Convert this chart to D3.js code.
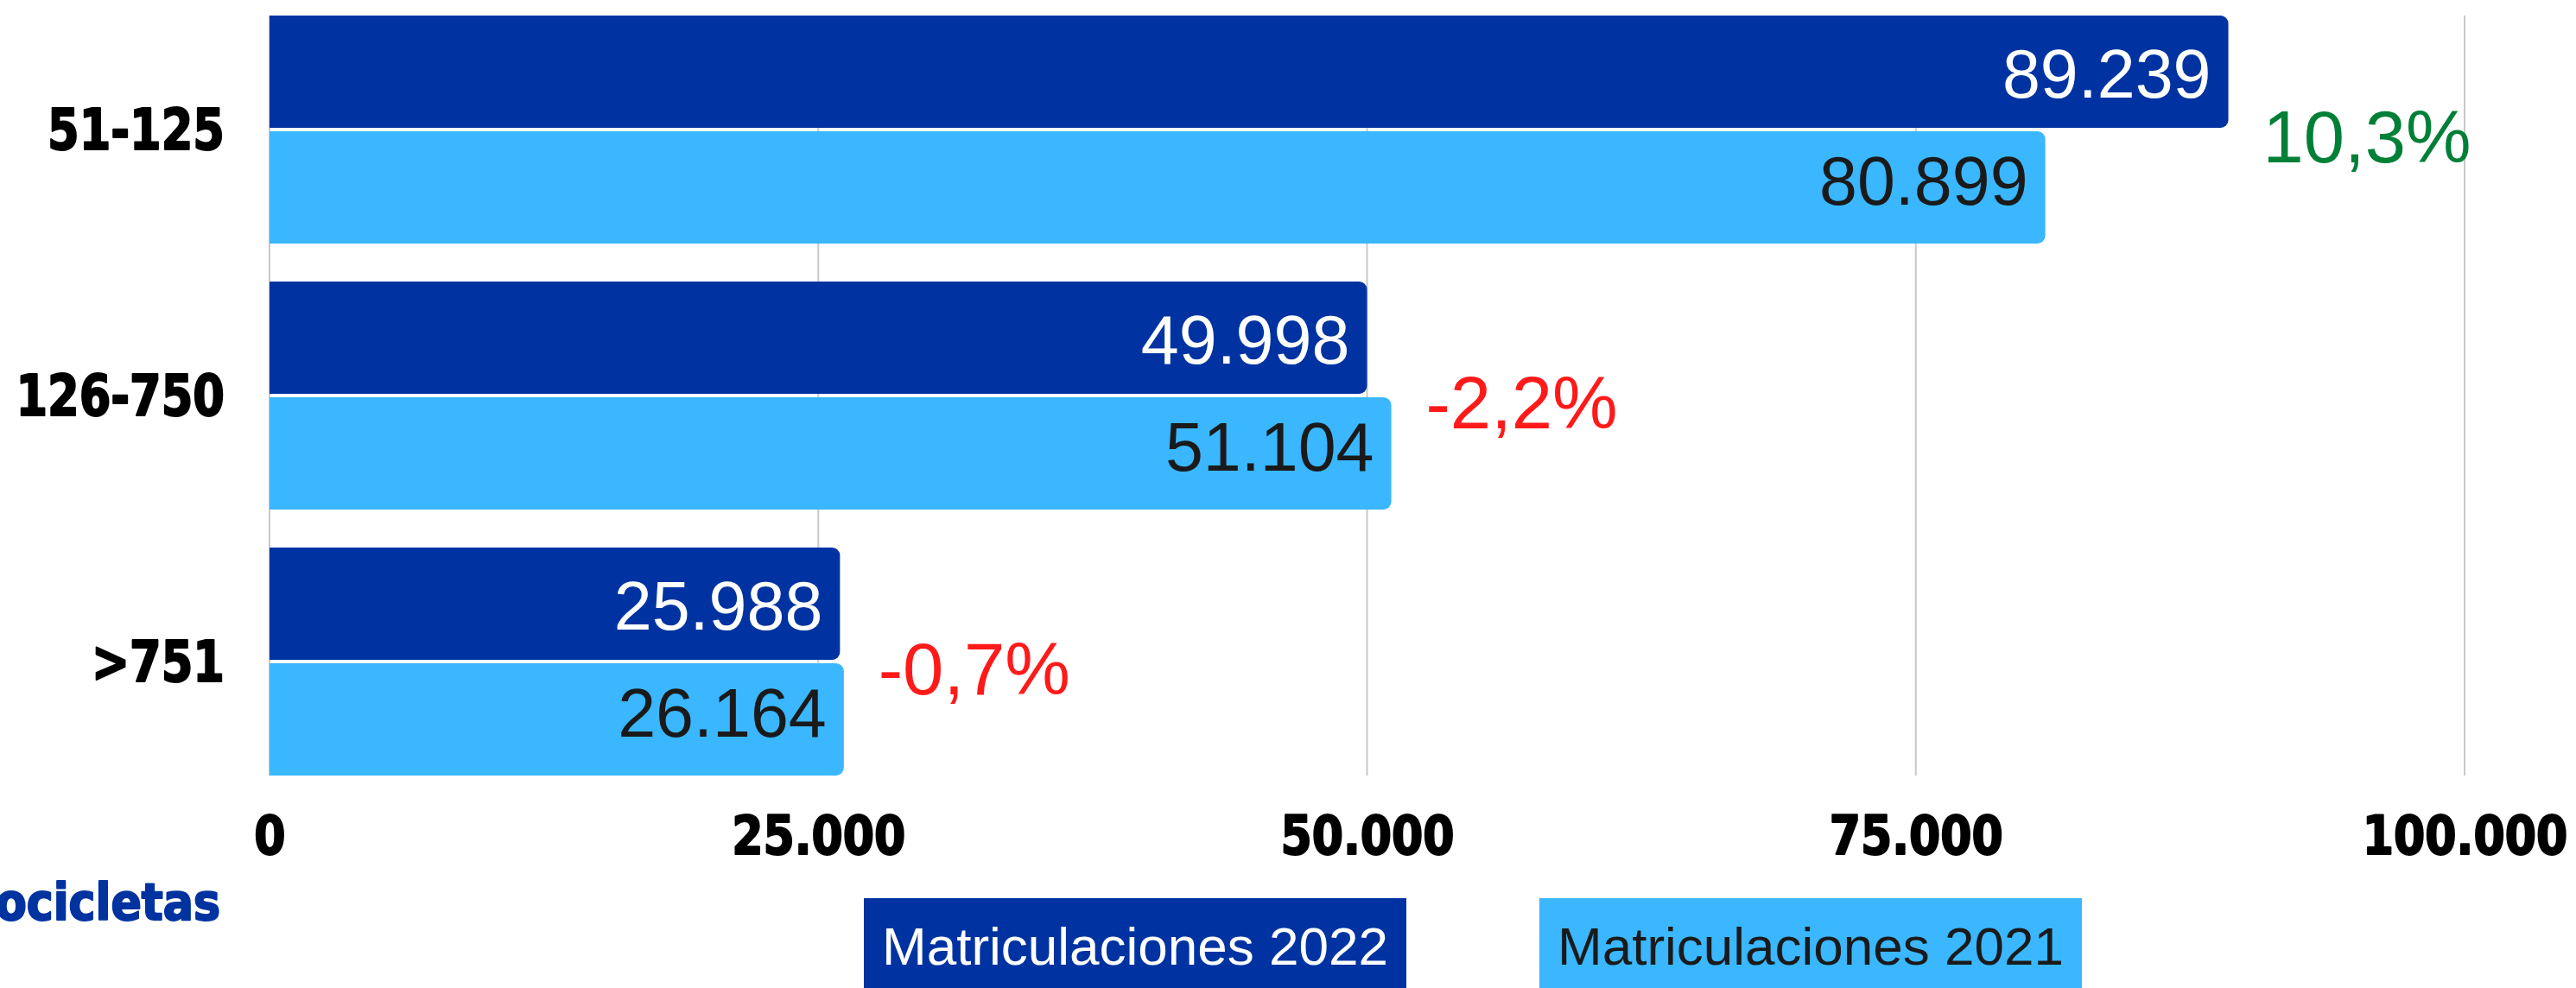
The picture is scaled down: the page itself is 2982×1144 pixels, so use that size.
<!DOCTYPE html>
<html>
<head>
<meta charset="utf-8">
<script src="https://cdn.jsdelivr.net/npm/d3@7"></script>
<style>
  html, body { margin: 0; padding: 0; background: #fff; overflow: hidden; }
  .bold { font-family: "DejaVu Sans Condensed", "DejaVu Sans", sans-serif; font-weight: bold; font-stretch: condensed; stroke-width: 2px; stroke-linejoin: round; }
  .plain { font-family: "Liberation Sans", Arial, sans-serif; }
</style>
</head>
<body>
<svg id="chart" width="2982" height="1144"></svg>
<script>
var categories = ['51-125', '126-750', '>751'];
var series = ['Matriculaciones 2022', 'Matriculaciones 2021'];
var values2022 = [89239, 49998, 25988];
var values2021 = [80899, 51104, 26164];
var xTicks = [0, 25000, 50000, 75000, 100000];

drawChart();

// squeeze bold labels horizontally so they look like the narrow heavy face of the original
function squeeze(sel, k) {
  sel.each(function() {
    var len = this.getComputedTextLength();
    d3.select(this)
      .attr('textLength', len * k)
      .attr('lengthAdjust', 'spacingAndGlyphs');
  });
}

function drawChart() {
  var svg = d3.select('#chart');
  var W = 2982, H = 1144;

  var es = d3.formatLocale({ decimal: ',', thousands: '.', grouping: [3], currency: ['', '€'], minus: '-' });
  var fmtInt = es.format(',d');
  var fmtPct = es.format('.1f');

  var darkBlue = '#0033a1', lightBlue = '#3ab7ff';
  var colors = [darkBlue, lightBlue];
  var labelColors = ['#ffffff', '#1a1a1a'];

  svg.append('rect').attr('width', W).attr('height', H).attr('fill', '#fff');

  var x = d3.scaleLinear().domain([0, 100000]).range([312, 2853]);
  var y = d3.scaleBand().domain(categories).range([18, 898]).paddingInner(0.143);
  var ySub = d3.scaleBand().domain(series).range([0, y.bandwidth()]).paddingInner(0.03);

  // gridlines
  svg.append('g').selectAll('line')
    .data(xTicks)
    .enter()
    .append('line')
    .attr('x1', function(d) { return x(d); })
    .attr('x2', function(d) { return x(d); })
    .attr('y1', y.range()[0])
    .attr('y2', y.range()[1])
    .attr('stroke', '#c8c8c8')
    .attr('stroke-width', 2);

  // x axis labels
  var xAxis = d3.axisBottom(x).tickValues(xTicks).tickSize(0).tickPadding(0).tickFormat(fmtInt);
  var axisG = svg.append('g').attr('transform', 'translate(0,' + 943 + ')').call(xAxis);
  axisG.select('.domain').remove();
  var tickText = axisG.selectAll('text')
    .attr('class', 'bold')
    .attr('dy', '0.73em')
    .style('font-size', '63px')
    .attr('fill', '#000')
    .attr('stroke', '#000');
  squeeze(tickText, 0.92);

  // category labels
  var catText = svg.append('g').selectAll('text')
    .data(categories)
    .enter()
    .append('text')
    .attr('class', 'bold')
    .attr('x', 260)
    .attr('y', function(d) { return y(d) + y.bandwidth() / 2; })
    .attr('dy', '0.36em')
    .attr('text-anchor', 'end')
    .style('font-size', '65px')
    .attr('fill', '#000')
    .attr('stroke', '#000')
    .text(function(d) { return d; });
  squeeze(catText, 0.9);

  function barPath(x0, x1, y0, h, r) {
    r = Math.min(r, (x1 - x0));
    return 'M' + x0 + ',' + y0 +
      'H' + (x1 - r) +
      'A' + r + ',' + r + ' 0 0 1 ' + x1 + ',' + (y0 + r) +
      'V' + (y0 + h - r) +
      'A' + r + ',' + r + ' 0 0 1 ' + (x1 - r) + ',' + (y0 + h) +
      'H' + x0 + 'Z';
  }

  var rows = categories.map(function(c, i) {
    return { cat: c, vals: [values2022[i], values2021[i]] };
  });

  var groups = svg.append('g').selectAll('g')
    .data(rows)
    .enter()
    .append('g')
    .attr('transform', function(d) { return 'translate(0,' + y(d.cat) + ')'; });

  // bars
  groups.selectAll('path')
    .data(function(d) { return d.vals.map(function(v, j) { return { v: v, s: series[j], j: j }; }); })
    .enter()
    .append('path')
    .attr('d', function(d) { return barPath(x(0), x(d.v), ySub(d.s), ySub.bandwidth(), 9); })
    .attr('fill', function(d) { return colors[d.j]; });

  // value labels
  groups.selectAll('text.val')
    .data(function(d) { return d.vals.map(function(v, j) { return { v: v, s: series[j], j: j }; }); })
    .enter()
    .append('text')
    .attr('class', 'val plain')
    .attr('x', function(d) { return x(d.v) - 20; })
    .attr('y', function(d) { return ySub(d.s) + ySub.bandwidth() / 2 + (d.j === 0 ? 2 : -8); })
    .attr('dy', '0.36em')
    .attr('text-anchor', 'end')
    .style('font-size', '79px')
    .attr('fill', function(d) { return labelColors[d.j]; })
    .text(function(d) { return fmtInt(d.v); });

  // change labels
  groups.append('text')
    .attr('class', 'plain')
    .attr('x', function(d) { return x(d3.max(d.vals)) + 40; })
    .attr('y', y.bandwidth() / 2 + 38)
    .style('font-size', '85px')
    .attr('fill', function(d) { return d.vals[0] >= d.vals[1] ? '#007f37' : '#ff1a1a'; })
    .text(function(d) { return fmtPct((d.vals[0] / d.vals[1] - 1) * 100) + '%'; });

  // cut-off caption bottom left
  svg.append('text')
    .attr('class', 'bold')
    .attr('x', 255)
    .attr('y', 1065)
    .attr('text-anchor', 'end')
    .style('font-size', '58px')
    .attr('fill', '#0033a0')
    .attr('stroke', '#0033a0')
    .text('Motocicletas');

  // legend
  var legendX = [1000, 1782];
  var legend = svg.append('g').selectAll('g')
    .data(series)
    .enter()
    .append('g')
    .attr('transform', function(d, i) { return 'translate(' + legendX[i] + ',1040)'; });
  legend.append('rect')
    .attr('width', 628)
    .attr('height', 120)
    .attr('fill', function(d, i) { return colors[i]; });
  legend.append('text')
    .attr('class', 'plain')
    .attr('x', 314)
    .attr('y', 77)
    .attr('text-anchor', 'middle')
    .style('font-size', '62px')
    .attr('fill', function(d, i) { return labelColors[i]; })
    .text(function(d) { return d; });
}
</script>
</body>
</html>
